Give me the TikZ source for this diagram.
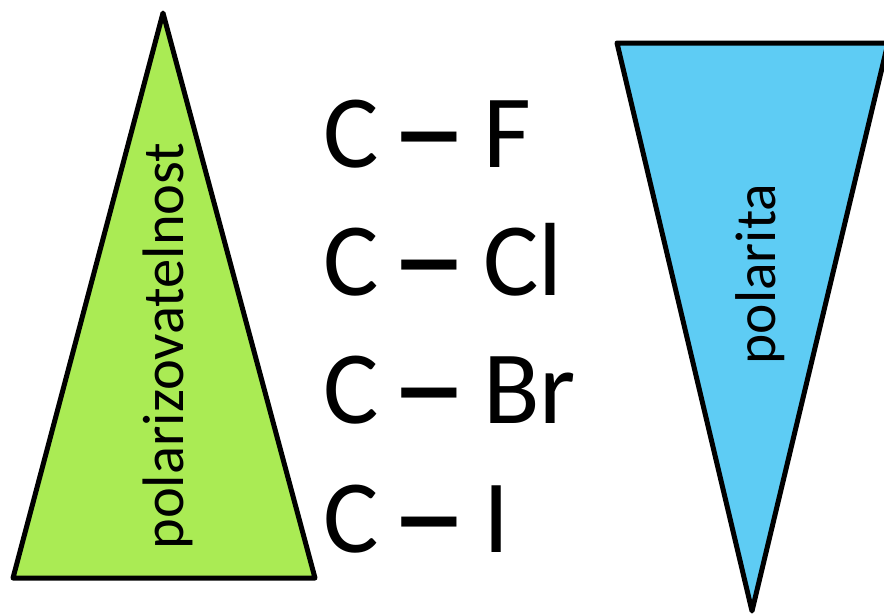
\documentclass[tikz,border=0pt]{standalone}
\usepackage{fontspec}
\usepackage{graphicx}
\setmainfont{Carlito}
\definecolor{trigreen}{RGB}{170,235,84}
\definecolor{triblue}{RGB}{94,204,244}
\newcommand{\bigdash}{\hspace{-12pt}\scalebox{1.5}[1.1]{\raisebox{-2.6pt}[0pt][0pt]{\bfseries –}}\hspace{-8pt}}
\begin{document}
\begin{tikzpicture}[x=1pt,y=-1pt,
  tri/.style={draw=black,line width=5pt,line join=round},
  bond/.style={anchor=base west,inner sep=0pt,font=\fontsize{104}{110}\selectfont},
  vlabel/.style={rotate=90,inner sep=0pt}]
\useasboundingbox (0,0) rectangle (884,616);
\begin{scope}
\clip (0,0) rectangle (884,616);
\draw[tri,fill=trigreen] (163,13) -- (315,578) -- (13,578) -- cycle;
\draw[tri,fill=triblue] (617,43) -- (888,43) -- (752,611) -- cycle;
\end{scope}
\node[vlabel,font=\fontsize{58.5}{60}\selectfont] (pz) at (168,346) {polarizovatelnost};
\node[vlabel,font=\fontsize{57.5}{60}\selectfont] (pa) at (760,274) {polarita};
\node[bond] (f) at (323,167) {C \bigdash{} F};
\node[bond] (cl) at (323,295) {C \bigdash{} Cl};
\node[bond] (br) at (323,423) {C \bigdash{} Br};
\node[bond] (i) at (323,552) {C \bigdash{} I};
\end{tikzpicture}
\end{document}
